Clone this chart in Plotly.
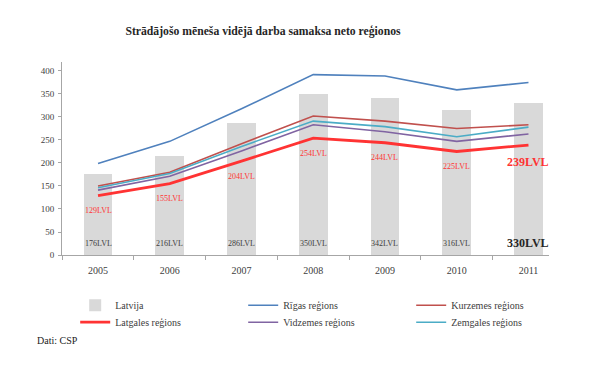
import plotly.graph_objects as go

years = [2005, 2006, 2007, 2008, 2009, 2010, 2011]
latvija = [176, 216, 286, 350, 342, 316, 330]
riga = [199, 247, 318, 392, 389, 359, 375]
kurzeme = [150, 180, 242, 302, 291, 275, 283]
latgale = [129, 155, 204, 254, 244, 225, 239]
vidzeme = [141, 171, 226, 283, 268, 247, 263]
zemgale = [146, 177, 236, 291, 279, 257, 278]
y_ticks = [0, 50, 100, 150, 200, 250, 300, 350, 400]

SERIF = "Liberation Serif"
fig = go.Figure()
fig.add_trace(go.Bar(x=years, y=latvija, name="Latvija", marker_color="#d9d9d9",
                     width=0.4, marker_line_width=0, legend="legend"))
series = [
    ("Rīgas reģions", riga, "#4f81bd", 1.6, "legend"),
    ("Kurzemes reģions", kurzeme, "#c0504d", 1.6, "legend"),
    ("Latgales reģions", latgale, "#ff3333", 2.8, "legend2"),
    ("Vidzemes reģions", vidzeme, "#8064a2", 1.6, "legend2"),
    ("Zemgales reģions", zemgale, "#4bacc6", 1.6, "legend2"),
]
for name, vals, col, w, lg in series:
    fig.add_trace(go.Scatter(x=years, y=vals, name=name, mode="lines",
                             line=dict(color=col, width=w), legend=lg))

ann = []
n = len(years)
for i, (yr, v) in enumerate(zip(years, latvija)):
    last = i == n - 1
    f = dict(family=SERIF, size=12 if last else 8, color="#262626" if last else "#404040")
    if last:
        f["weight"] = "bold"
    ann.append(dict(x=yr, y=0, xref="x", yref="y", text=f"{v}LVL", showarrow=False,
                    yshift=12, font=f))
for i, (yr, v) in enumerate(zip(years, latgale)):
    last = i == n - 1
    f = dict(family=SERIF, size=12 if last else 8, color="#ff3333")
    if last:
        f["weight"] = "bold"
    ann.append(dict(x=yr, y=v, xref="x", yref="y", text=f"{v}LVL", showarrow=False,
                    yshift=-17 if last else -15, font=f))
ann.append(dict(x=(35 - 62) / 487, y=(255.3 - 341) / 193.3, xref="paper", yref="paper",
                text="Dati: CSP", showarrow=False, xanchor="left", yanchor="middle",
                font=dict(family=SERIF, size=10, color="#222")))

legfont = dict(family=SERIF, size=10, color="#404040")
fig.update_layout(
    width=600, height=374,
    margin=dict(l=62, r=51, t=62, b=119),
    paper_bgcolor="white", plot_bgcolor="white",
    title=dict(text="<b>Strādājošo mēneša vidējā darba samaksa neto reģionos</b>",
               x=263 / 600, xanchor="center", y=1 - 31 / 374, yanchor="middle",
               font=dict(family=SERIF, size=11.7, color="#262626")),
    showlegend=True,
    legend=dict(orientation="h", x=1.062, xanchor="right", y=-0.185, yanchor="top",
                entrywidth=123, font=legfont, bgcolor="rgba(0,0,0,0)"),
    legend2=dict(orientation="h", x=1.062, xanchor="right", y=-0.273, yanchor="top",
                 entrywidth=123, font=legfont, bgcolor="rgba(0,0,0,0)"),
    annotations=ann,
    bargap=0,
)
fig.update_xaxes(range=[2004.498, 2011.286], tickvals=years, ticktext=[str(y) for y in years],
                 ticks="", showgrid=False, zeroline=False, showline=True, linecolor="#a6a6a6",
                 linewidth=1, tickfont=dict(family=SERIF, size=10, color="#404040"),
                 ticklabelstandoff=6,
                 minor=dict(tickvals=[y - 0.5 for y in years] + [years[-1] + 0.5], ticks="outside",
                            ticklen=4, tickcolor="#a6a6a6"))
fig.update_yaxes(range=[0, 419.5], tickvals=y_ticks, ticks="outside", ticklen=3,
                 tickcolor="#a6a6a6", showgrid=False, zeroline=False, showline=True,
                 linecolor="#a6a6a6", linewidth=1, ticklabelstandoff=2,
                 tickfont=dict(family=SERIF, size=9, color="#404040"))
fig.write_html("out.html", config={"displayModeBar": False},
               post_script="document.body.style.margin='0';")
